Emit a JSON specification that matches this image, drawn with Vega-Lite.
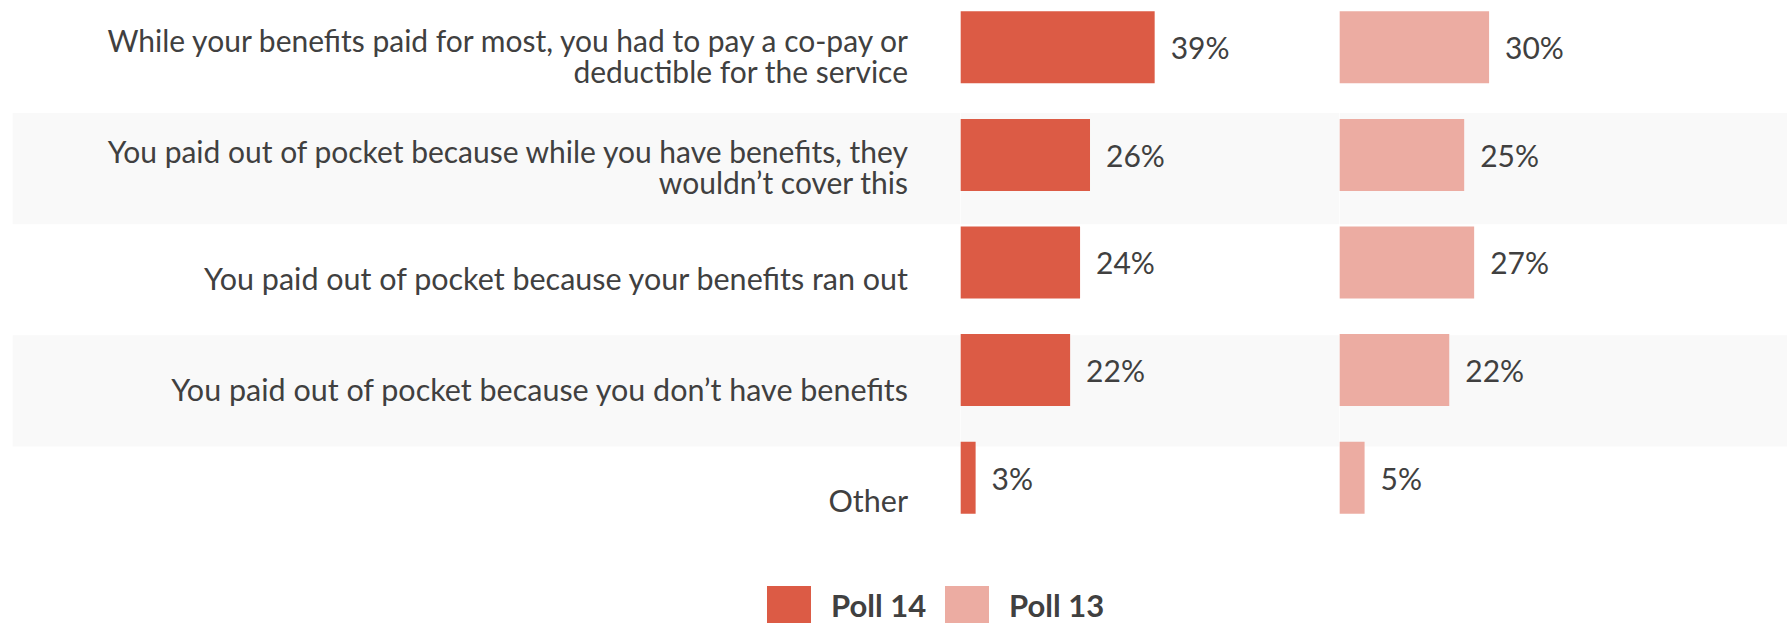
{
  "$schema": "https://vega.github.io/schema/vega-lite/v6.json",
  "background": "#ffffff",
  "padding": {"left": 12.7, "top": 2, "right": 0, "bottom": 0},
  "datasets": {
    "rows": [
      {"cat": "While your benefits paid for most, you had to pay a co-pay or\ndeductible for the service", "poll": "Poll 14", "value": 0.39},
      {"cat": "You paid out of pocket because while you have benefits, they\nwouldn’t cover this", "poll": "Poll 14", "value": 0.26},
      {"cat": "You paid out of pocket because your benefits ran out", "poll": "Poll 14", "value": 0.24},
      {"cat": "You paid out of pocket because you don’t have benefits", "poll": "Poll 14", "value": 0.22},
      {"cat": "Other", "poll": "Poll 14", "value": 0.03},
      {"cat": "While your benefits paid for most, you had to pay a co-pay or\ndeductible for the service", "poll": "Poll 13", "value": 0.30},
      {"cat": "You paid out of pocket because while you have benefits, they\nwouldn’t cover this", "poll": "Poll 13", "value": 0.25},
      {"cat": "You paid out of pocket because your benefits ran out", "poll": "Poll 13", "value": 0.27},
      {"cat": "You paid out of pocket because you don’t have benefits", "poll": "Poll 13", "value": 0.22},
      {"cat": "Other", "poll": "Poll 13", "value": 0.05}
    ],
    "bands": [
      {"cat": "You paid out of pocket because while you have benefits, they\nwouldn’t cover this"},
      {"cat": "You paid out of pocket because you don’t have benefits"}
    ]
  },
  "spacing": 0,
  "hconcat": [
    {
      "width": 947.3,
      "height": 555.5,
      "layer": [
        {
          "data": {"name": "bands"},
          "mark": {"type": "rect", "color": "#f9f9f9"},
          "encoding": {
            "y": {"field": "cat", "type": "nominal", "axis": null, "scale": {"domain": ["While your benefits paid for most, you had to pay a co-pay or\ndeductible for the service", "You paid out of pocket because while you have benefits, they\nwouldn’t cover this", "You paid out of pocket because your benefits ran out", "You paid out of pocket because you don’t have benefits", "Other"], "paddingInner": 0, "paddingOuter": 0}},
            "x": {"value": 0},
            "x2": {"value": "width"}
          }
        },
        {
          "data": {"name": "rows"},
          "transform": [{"filter": "datum.poll == 'Poll 14' && indexof(datum.cat, '\\n') < 0"}],
          "mark": {"type": "text", "align": "right", "baseline": "middle", "dx": -52, "dy": 1, "fontSize": 30.5, "font": "Lato", "lineBreak": "\n", "lineHeight": 31, "color": "#404040"},
          "encoding": {
            "y": {"field": "cat", "type": "nominal", "axis": null, "scale": {"domain": ["While your benefits paid for most, you had to pay a co-pay or\ndeductible for the service", "You paid out of pocket because while you have benefits, they\nwouldn’t cover this", "You paid out of pocket because your benefits ran out", "You paid out of pocket because you don’t have benefits", "Other"], "paddingInner": 0, "paddingOuter": 0}},
            "x": {"value": "width"},
            "text": {"field": "cat", "type": "nominal"}
          }
        },
        {
          "data": {"name": "rows"},
          "transform": [{"filter": "datum.poll == 'Poll 14' && indexof(datum.cat, '\\n') >= 0"}],
          "mark": {"type": "text", "align": "right", "baseline": "middle", "dx": -52, "dy": -15, "fontSize": 30, "font": "Lato", "lineBreak": "\n", "lineHeight": 31, "color": "#404040"},
          "encoding": {
            "y": {"field": "cat", "type": "nominal", "axis": null, "scale": {"domain": ["While your benefits paid for most, you had to pay a co-pay or\ndeductible for the service", "You paid out of pocket because while you have benefits, they\nwouldn’t cover this", "You paid out of pocket because your benefits ran out", "You paid out of pocket because you don’t have benefits", "Other"], "paddingInner": 0, "paddingOuter": 0}},
            "x": {"value": "width"},
            "text": {"field": "cat", "type": "nominal"}
          }
        }
      ]
    },
    {
      "width": 378.3,
      "height": 555.5,
      "layer": [
        {
          "data": {"name": "bands"},
          "mark": {"type": "rect", "color": "#f9f9f9"},
          "encoding": {
            "y": {"field": "cat", "type": "nominal", "axis": null, "scale": {"domain": ["While your benefits paid for most, you had to pay a co-pay or\ndeductible for the service", "You paid out of pocket because while you have benefits, they\nwouldn’t cover this", "You paid out of pocket because your benefits ran out", "You paid out of pocket because you don’t have benefits", "Other"], "paddingInner": 0, "paddingOuter": 0}},
            "x": {"value": 0},
            "x2": {"value": "width"}
          }
        },
        {
          "data": {"name": "rows"},
          "transform": [{"filter": "datum.poll == 'Poll 14'"}],
          "encoding": {
            "y": {"field": "cat", "type": "nominal", "axis": null, "scale": {"domain": ["While your benefits paid for most, you had to pay a co-pay or\ndeductible for the service", "You paid out of pocket because while you have benefits, they\nwouldn’t cover this", "You paid out of pocket because your benefits ran out", "You paid out of pocket because you don’t have benefits", "Other"], "paddingInner": 0.3309, "paddingOuter": 0.2468, "align": 0.175}},
            "x": {"field": "value", "type": "quantitative", "axis": null, "scale": {"domain": [0, 0.7606], "nice": false, "zero": true}}
          },
          "layer": [
            {
              "mark": {"type": "bar", "opacity": 1},
              "encoding": {
                "color": {"field": "poll", "type": "nominal", "scale": {"domain": ["Poll 14", "Poll 13"], "range": ["#dc5b45", "#ecaca2"]},
                  "legend": {"orient": "none", "legendX": 754.3, "legendY": 584, "direction": "horizontal", "title": null, "symbolType": "square", "symbolSize": 1936, "symbolStrokeWidth": 0, "symbolOpacity": 1, "labelFontSize": 31, "labelFont": "Lato", "labelFontWeight": "bold", "labelColor": "#404040", "labelOffset": 20, "columnPadding": 18, "padding": 0}}
              }
            },
            {
              "mark": {"type": "text", "align": "left", "baseline": "middle", "dx": 16, "dy": 3, "fontSize": 30, "font": "Lato", "color": "#404040"},
              "encoding": {"text": {"field": "value", "type": "quantitative", "format": ".0%"}}
            }
          ]
        }
      ],
      "resolve": {"scale": {"y": "independent"}}
    },
    {
      "width": 448.7,
      "height": 555.5,
      "layer": [
        {
          "data": {"name": "bands"},
          "mark": {"type": "rect", "color": "#f9f9f9"},
          "encoding": {
            "y": {"field": "cat", "type": "nominal", "axis": null, "scale": {"domain": ["While your benefits paid for most, you had to pay a co-pay or\ndeductible for the service", "You paid out of pocket because while you have benefits, they\nwouldn’t cover this", "You paid out of pocket because your benefits ran out", "You paid out of pocket because you don’t have benefits", "Other"], "paddingInner": 0, "paddingOuter": 0}},
            "x": {"value": 0},
            "x2": {"value": "width"}
          }
        },
        {
          "data": {"name": "rows"},
          "transform": [{"filter": "datum.poll == 'Poll 13'"}],
          "encoding": {
            "y": {"field": "cat", "type": "nominal", "axis": null, "scale": {"domain": ["While your benefits paid for most, you had to pay a co-pay or\ndeductible for the service", "You paid out of pocket because while you have benefits, they\nwouldn’t cover this", "You paid out of pocket because your benefits ran out", "You paid out of pocket because you don’t have benefits", "Other"], "paddingInner": 0.3309, "paddingOuter": 0.2468, "align": 0.175}},
            "x": {"field": "value", "type": "quantitative", "axis": null, "scale": {"domain": [0, 0.901], "nice": false, "zero": true}}
          },
          "layer": [
            {
              "mark": {"type": "bar", "opacity": 1},
              "encoding": {
                "color": {"field": "poll", "type": "nominal", "scale": {"domain": ["Poll 14", "Poll 13"], "range": ["#dc5b45", "#ecaca2"]},
                  "legend": {"orient": "none", "legendX": 754.3, "legendY": 584, "direction": "horizontal", "title": null, "symbolType": "square", "symbolSize": 1936, "symbolStrokeWidth": 0, "symbolOpacity": 1, "labelFontSize": 31, "labelFont": "Lato", "labelFontWeight": "bold", "labelColor": "#404040", "labelOffset": 20, "columnPadding": 18, "padding": 0}}
              }
            },
            {
              "mark": {"type": "text", "align": "left", "baseline": "middle", "dx": 16, "dy": 3, "fontSize": 30, "font": "Lato", "color": "#404040"},
              "encoding": {"text": {"field": "value", "type": "quantitative", "format": ".0%"}}
            }
          ]
        }
      ],
      "resolve": {"scale": {"y": "independent"}}
    }
  ],
  "resolve": {"scale": {"color": "shared"}},
  "config": {"view": {"stroke": null}, "font": "Lato"}
}
